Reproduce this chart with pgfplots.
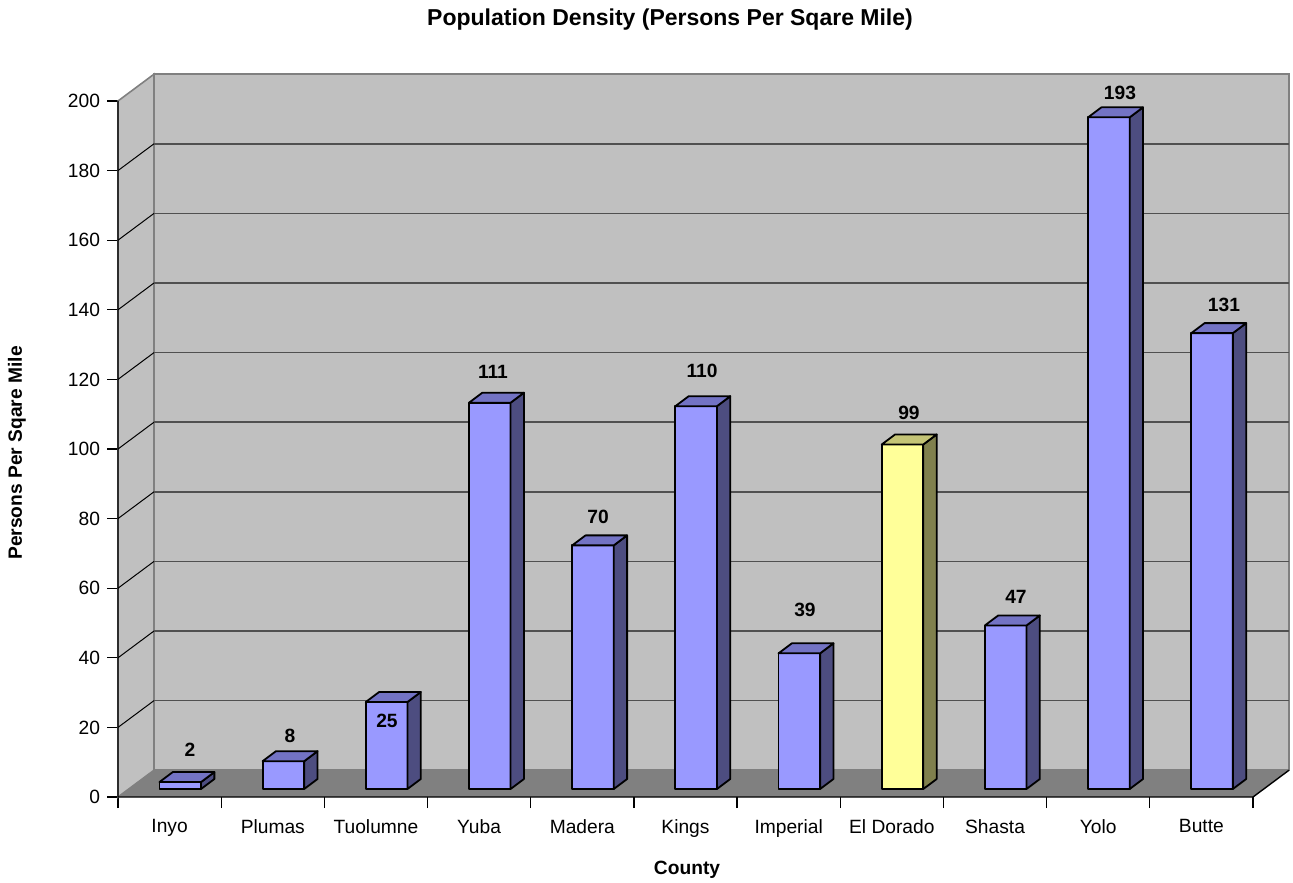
\documentclass[border=0pt]{standalone}
\usepackage{pgfplots}
\pgfplotsset{compat=1.18}
\usepackage{pgfplotstable}
\usepackage{fontspec}
\setmainfont{Liberation Sans}
\definecolor{bfront}{RGB}{153,153,255}
\definecolor{btop}{RGB}{115,115,196}
\definecolor{bside}{RGB}{77,77,128}
\definecolor{yfront}{RGB}{255,255,153}
\definecolor{ytop}{RGB}{196,196,118}
\definecolor{yside}{RGB}{128,128,77}
\definecolor{wallc}{RGB}{192,192,192}
\definecolor{floorc}{RGB}{128,128,128}
\definecolor{edgec}{RGB}{128,128,128}
\definecolor{gridc}{RGB}{80,80,80}

% blue bars
\pgfplotstableread{
x v
0.5 2
1.5 8
2.5 25
3.5 111
4.5 70
5.5 110
6.5 39
8.5 47
9.5 193
10.5 131
}\bluebars
% highlighted bar
\pgfplotstableread{
x v
7.5 99
}\yellowbars
% value labels (position in axis units, text)
\pgfplotstableread{
lx ly v
0.698 13.5 2
1.667 17.5 8
2.607 21.8 25
3.634 122.1 111
4.652 80.5 70
5.660 122.4 110
6.658 53.7 39
7.666 110.3 99
8.703 57.5 47
9.711 202.3 193
10.719 141.4 131
}\labeltable

\newcommand\barthreed[3]{%
  \pgfmathsetmacro\yb{4.0-\val*1.74}%
  \pgfmathsetmacro\ybb{9.0-\val*1.74}%
  \pgfsetstrokecolor{black}%
  \pgfsetlinewidth{0.9pt}%
  \pgfsetroundjoin
  \pgfsetfillcolor{#1}%
  \pgfpathrectanglecorners{\pgfpoint{-5.07pt}{\yb pt}}{\pgfpoint{15.73pt}{4pt}}%
  \pgfusepath{fill,stroke}%
  \pgfsetfillcolor{#3}%
  \pgfpathmoveto{\pgfpoint{15.73pt}{\yb pt}}%
  \pgfpathlineto{\pgfpoint{22.4pt}{\ybb pt}}%
  \pgfpathlineto{\pgfpoint{22.4pt}{9pt}}%
  \pgfpathlineto{\pgfpoint{15.73pt}{4pt}}%
  \pgfpathclose
  \pgfusepath{fill,stroke}%
  \pgfsetfillcolor{#2}%
  \pgfpathmoveto{\pgfpoint{-5.07pt}{4pt}}%
  \pgfpathlineto{\pgfpoint{15.73pt}{4pt}}%
  \pgfpathlineto{\pgfpoint{22.4pt}{9pt}}%
  \pgfpathlineto{\pgfpoint{1.6pt}{9pt}}%
  \pgfpathclose
  \pgfusepath{fill,stroke}%
}
\pgfdeclareplotmark{bar3db}{\barthreed{bfront}{btop}{bside}}
\pgfdeclareplotmark{bar3dy}{\barthreed{yfront}{ytop}{yside}}

\begin{document}
\begin{tikzpicture}
\begin{axis}[
  anchor=origin, at={(0,0)},
  x=51.59pt, y=1.74pt,
  xmin=0, xmax=11.349, ymin=0, ymax=207.7,
  enlargelimits=false, clip=false,
  axis x line*=bottom, axis y line*=left,
  axis line style={draw=none},
  tick align=outside,
  major tick length=5.5pt, minor tick length=5.5pt,
  tick style={black, line width=0.6pt},
  xtick={0.5,1.5,...,10.5},
  xticklabels={Inyo,Plumas,Tuolumne,Yuba,Madera,Kings,Imperial,El Dorado,Shasta,Yolo,Butte},
  minor xtick={0,1,...,11},
  every major x tick/.append style={draw=none},
  ytick={0,20,...,200},
  ticklabel style={font=\fontsize{9.6}{11}\selectfont},
  xticklabel style={yshift=-2.3pt},
  /pgf/number format/assume math mode=true,
]
% back wall
\filldraw[fill=wallc, draw=edgec, line width=0.8pt] (0.349,7.7) -- (11.349,7.7) -- (11.349,207.7) -- (0.349,207.7) -- cycle;
% left wall
\filldraw[fill=wallc, draw=edgec, line width=0.8pt] (0,0) -- (0.349,7.7) -- (0.349,207.7) -- (0,200) -- cycle;
% floor
\fill[floorc] (0,0) -- (11,0) -- (11.349,7.7) -- (0.349,7.7) -- cycle;
% gridlines on left wall
\draw[black, line width=0.5pt]
  (0,20) -- (0.349,27.7) (0,40) -- (0.349,47.7) (0,60) -- (0.349,67.7)
  (0,80) -- (0.349,87.7) (0,100) -- (0.349,107.7) (0,120) -- (0.349,127.7)
  (0,140) -- (0.349,147.7) (0,160) -- (0.349,167.7) (0,180) -- (0.349,187.7);
% gridlines on back wall
\draw[gridc, line width=0.8pt]
  (0.349,27.7) -- (11.349,27.7) (0.349,47.7) -- (11.349,47.7) (0.349,67.7) -- (11.349,67.7)
  (0.349,87.7) -- (11.349,87.7) (0.349,107.7) -- (11.349,107.7) (0.349,127.7) -- (11.349,127.7)
  (0.349,147.7) -- (11.349,147.7) (0.349,167.7) -- (11.349,167.7) (0.349,187.7) -- (11.349,187.7);
% front edges
\draw[black, line width=0.7pt] (0,200) -- (0,0) -- (11,0) -- (11.349,7.7);
% bars
\addplot[only marks, mark=bar3db, visualization depends on={rawy \as \val}]
  table[x=x, y=v] {\bluebars};
\addplot[only marks, mark=bar3dy, visualization depends on={rawy \as \val}]
  table[x=x, y=v] {\yellowbars};
% value labels
\addplot[only marks, mark=*, mark size=0pt, mark options={draw=none, fill=none},
  nodes near coords, point meta=explicit symbolic,
  every node near coord/.append style={anchor=center, inner sep=0pt,
    font=\bfseries\fontsize{9.6}{11}\selectfont}]
  table[x=lx, y=ly, meta=v] {\labeltable};
\end{axis}
\node[font=\bfseries\fontsize{11.5}{13}\selectfont] at (276pt,388.5pt) {Population Density (Persons Per Sqare Mile)};
\node[font=\bfseries\fontsize{9.6}{11}\selectfont, rotate=90] at (-50.5pt,172pt) {Persons Per Sqare Mile};
\node[font=\bfseries\fontsize{9.6}{11}\selectfont] at (284.5pt,-36.5pt) {County};
\pgfresetboundingbox
\path (-59pt,-42.5pt) rectangle (587.5pt,398.5pt);
\end{tikzpicture}
\end{document}
